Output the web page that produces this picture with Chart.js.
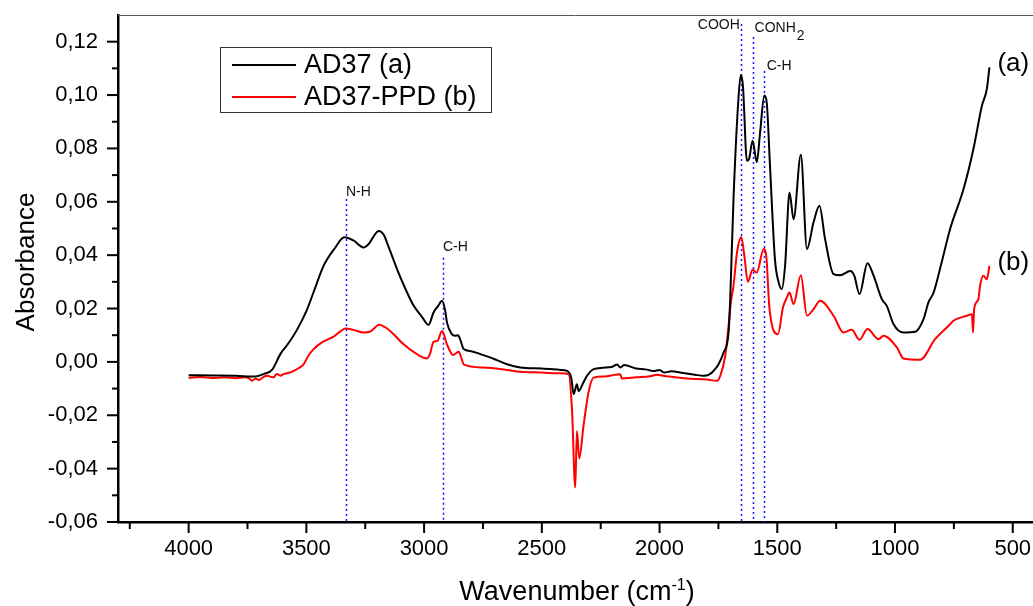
<!DOCTYPE html>
<html>
<head>
<meta charset="utf-8">
<script src="https://cdn.jsdelivr.net/npm/chart.js@4.4.1/dist/chart.umd.min.js"></script>
<style>
  body { margin: 0; background: #fff; }
  canvas { display: block; }
</style>
</head>
<body>
<canvas id="ftir" width="1033" height="606"></canvas>
<script>
// AD37 (a): wavenumber (cm-1) / absorbance
const waveA = [4000, 3900, 3800, 3720, 3680, 3646, 3610, 3580, 3540, 3500, 3470, 3427, 3380, 3339, 3300, 3257, 3236, 3193, 3170, 3158,
  3115, 3080, 3044, 3010, 2981, 2960, 2940, 2924, 2910, 2903, 2882, 2868, 2856, 2845, 2832, 2800, 2761, 2700, 2648, 2592,
  2500, 2420, 2393, 2375, 2365, 2351, 2344, 2325, 2308, 2280, 2240, 2200, 2180, 2167, 2150, 2100, 2060, 2026, 2000, 1980,
  1950, 1900, 1850, 1813, 1790, 1771, 1750, 1728, 1707, 1700, 1686, 1665, 1655, 1646, 1629, 1620, 1605, 1587, 1573, 1555,
  1545, 1531, 1510, 1495, 1481, 1467, 1448, 1431, 1400, 1374, 1346, 1321, 1297, 1261, 1233, 1190, 1173, 1151, 1117, 1091,
  1056, 1035, 1006, 964, 914, 879, 858, 836, 800, 766, 709, 667, 631, 610, 599];
const absA = [-0.0050, -0.0051, -0.0052, -0.0055, -0.0045, -0.0030, 0.0030, 0.0065, 0.0120, 0.0190, 0.0260, 0.0360, 0.0425, 0.0467, 0.0455, 0.0429, 0.0441, 0.0491, 0.0475, 0.0448,
  0.0348, 0.0275, 0.0210, 0.0170, 0.0139, 0.0185, 0.0210, 0.0229, 0.0190, 0.0148, 0.0104, 0.0098, 0.0100, 0.0080, 0.0048, 0.0040, 0.0029, 0.0010, -0.0009, -0.0021,
  -0.0025, -0.0030, -0.0034, -0.0060, -0.0121, -0.0084, -0.0109, -0.0080, -0.0052, -0.0027, -0.0022, -0.0018, -0.0010, -0.0021, -0.0012, -0.0025, -0.0028, -0.0034, -0.0030, -0.0040,
  -0.0035, -0.0042, -0.0048, -0.0052, -0.0048, -0.0034, -0.0010, 0.0035, 0.0110, 0.0235, 0.0610, 0.0986, 0.1075, 0.1035, 0.0754, 0.0760, 0.0829, 0.0748, 0.0860, 0.0998,
  0.0973, 0.0735, 0.0385, 0.0300, 0.0273, 0.0360, 0.0635, 0.0535, 0.0776, 0.0423, 0.0523, 0.0585, 0.0460, 0.0329, 0.0325, 0.0341, 0.0323, 0.0254, 0.0370, 0.0323,
  0.0235, 0.0210, 0.0141, 0.0110, 0.0113, 0.0160, 0.0223, 0.0260, 0.0380, 0.0498, 0.0648, 0.0798, 0.0960, 0.1023, 0.1104];

// AD37-PPD (b)
const waveB = [4000, 3950, 3900, 3850, 3800, 3760, 3740, 3731, 3715, 3703, 3680, 3667, 3640, 3625, 3610, 3597, 3570, 3554, 3530, 3512,
  3490, 3469, 3434, 3384, 3332, 3300, 3257, 3228, 3190, 3170, 3144, 3087, 3030, 2988, 2975, 2960, 2943, 2924, 2903, 2877,
  2862, 2853, 2840, 2832, 2747, 2650, 2592, 2500, 2420, 2386, 2372, 2358, 2351, 2341, 2323, 2302, 2280, 2230, 2200, 2167,
  2160, 2100, 2040, 2010, 1997, 1950, 1884, 1800, 1756, 1742, 1721, 1707, 1697, 1686, 1671, 1653, 1640, 1625, 1605, 1587,
  1558, 1547, 1533, 1497, 1476, 1460, 1448, 1431, 1400, 1374, 1346, 1318, 1261, 1219, 1184, 1151, 1117, 1070, 1049, 992,
  964, 893, 830, 766, 752, 695, 673, 669, 664, 646, 639, 625, 610, 599];
const absB = [-0.0059, -0.0057, -0.0060, -0.0058, -0.0061, -0.0058, -0.0064, -0.0071, -0.0062, -0.0068, -0.0055, -0.0052, -0.0058, -0.0045, -0.0052, -0.0046, -0.0040, -0.0034, -0.0022, -0.0009,
  0.0025, 0.0048, 0.0073, 0.0095, 0.0125, 0.0120, 0.0110, 0.0114, 0.0139, 0.0132, 0.0116, 0.0066, 0.0029, 0.0013, 0.0030, 0.0075, 0.0079, 0.0116, 0.0066, 0.0026,
  0.0034, 0.0038, 0.0010, -0.0009, -0.0021, -0.0030, -0.0037, -0.0040, -0.0043, -0.0046, -0.0177, -0.0471, -0.0259, -0.0362, -0.0240, -0.0115, -0.0059, -0.0055, -0.0050, -0.0046,
  -0.0062, -0.0058, -0.0054, -0.0048, -0.0050, -0.0056, -0.0062, -0.0066, -0.0071, -0.0052, 0.0023, 0.0135, 0.0223, 0.0285, 0.0410, 0.0467, 0.0398, 0.0300, 0.0345, 0.0335,
  0.0423, 0.0398, 0.0198, 0.0104, 0.0204, 0.0240, 0.0260, 0.0216, 0.0325, 0.0173, 0.0198, 0.0229, 0.0173, 0.0110, 0.0120, 0.0083, 0.0123, 0.0085, 0.0098, 0.0054,
  0.0013, 0.0008, 0.0085, 0.0141, 0.0154, 0.0173, 0.0179, 0.0110, 0.0198, 0.0235, 0.0285, 0.0323, 0.0310, 0.0360];

const xTicks = [4000, 3500, 3000, 2500, 2000, 1500, 1000, 500];
const xMinor = [4250, 3750, 3250, 2750, 2250, 1750, 1250, 750];
const yTicks = [-0.06, -0.04, -0.02, 0, 0.02, 0.04, 0.06, 0.08, 0.10, 0.12];
const yMinor = [-0.05, -0.03, -0.01, 0.01, 0.03, 0.05, 0.07, 0.09, 0.11];

// band assignments: position, top of the dotted line, label
const bandWave = [3332, 2920, 1655, 1605, 1558];
const bandTop = [0.061, 0.039, 0.1266, 0.1218, 0.109];
const bandText = ['N-H', 'C-H', 'COOH', 'CONH', 'C-H'];
const bandSub = ['', '', '', '2', ''];

const FONT = "'Liberation Sans', Arial, sans-serif";

function line(ctx, x1, y1, x2, y2) {
  ctx.beginPath();
  ctx.moveTo(x1, y1);
  ctx.lineTo(x2, y2);
  ctx.stroke();
}

const decor = {
  id: 'decor',
  beforeDatasetsDraw(chart) {
    const { ctx, chartArea, scales: { x, y } } = chart;
    ctx.save();
    ctx.strokeStyle = '#1414ff';
    ctx.lineWidth = 1.5;
    ctx.setLineDash([2, 3]);
    bandWave.forEach((w, i) => {
      const px = Math.round(x.getPixelForValue(w)) + 0.5;
      line(ctx, px, y.getPixelForValue(bandTop[i]), px, chartArea.bottom);
    });
    ctx.restore();
  },
  afterDraw(chart) {
    const { ctx, chartArea, scales: { x, y } } = chart;
    const { left, right, top, bottom } = chartArea;
    ctx.save();

    // top frame line
    ctx.strokeStyle = '#555';
    ctx.lineWidth = 1;
    line(ctx, left, top + 0.5, right, top + 0.5);

    // outward ticks
    ctx.strokeStyle = '#000';
    ctx.lineWidth = 2;
    xTicks.forEach(v => { const p = x.getPixelForValue(v); line(ctx, p, bottom, p, bottom + 11); });
    xMinor.forEach(v => { const p = x.getPixelForValue(v); line(ctx, p, bottom, p, bottom + 7); });
    yTicks.forEach(v => { const p = y.getPixelForValue(v); line(ctx, left - 11, p, left, p); });
    yMinor.forEach(v => { const p = y.getPixelForValue(v); line(ctx, left - 6, p, left, p); });

    // band labels
    const offs = [[0, -7, 'left'], [0, -11, 'left'], [-1, 1, 'right'], [2, -8.5, 'left'], [3, -5, 'left']];
    ctx.fillStyle = '#111';
    ctx.textBaseline = 'middle';
    bandWave.forEach((w, i) => {
      const px = x.getPixelForValue(w) + offs[i][0];
      const py = y.getPixelForValue(bandTop[i]) + offs[i][1];
      ctx.font = '14px ' + FONT;
      ctx.textAlign = offs[i][2];
      ctx.fillText(bandText[i], px, py);
      if (bandSub[i]) {
        const tw = ctx.measureText(bandText[i]).width;
        ctx.textAlign = 'left';
        ctx.fillText(bandSub[i], px + tw + 1, py + 8);
      }
    });

    // legend
    ctx.fillStyle = '#fff';
    ctx.fillRect(220, 47, 271, 65);
    ctx.strokeStyle = '#333';
    ctx.lineWidth = 1;
    ctx.strokeRect(220.5, 47.5, 271, 65);
    chart.data.datasets.forEach((ds, i) => {
      const cy = 65 + i * 32;
      ctx.strokeStyle = ds.borderColor;
      ctx.lineWidth = 2;
      line(ctx, 232, cy, 296, cy);
      ctx.fillStyle = '#000';
      ctx.font = '27px ' + FONT;
      ctx.textAlign = 'left';
      ctx.textBaseline = 'middle';
      ctx.fillText(ds.label, 304, cy + 1);
    });

    // curve tags at the low-wavenumber end
    ctx.font = '26px ' + FONT;
    ctx.fillStyle = '#000';
    ['(a)', '(b)'].forEach((t, i) => {
      const ds = chart.data.datasets[i].data;
      const last = ds[ds.length - 1];
      ctx.fillText(t, x.getPixelForValue(last.x) + 8, y.getPixelForValue(last.y) - 3);
    });

    // axis titles
    ctx.fillStyle = '#000';
    ctx.textBaseline = 'alphabetic';
    ctx.textAlign = 'left';
    const main = 'Wavenumber (cm';
    ctx.font = '27px ' + FONT;
    const w1 = ctx.measureText(main).width;
    const w3 = ctx.measureText(')').width;
    ctx.font = '16px ' + FONT;
    const w2 = ctx.measureText('-1').width;
    let tx = 577 - (w1 + w2 + w3) / 2;
    ctx.font = '27px ' + FONT;
    ctx.fillText(main, tx, 600);
    ctx.font = '16px ' + FONT;
    ctx.fillText('-1', tx + w1, 590);
    ctx.font = '27px ' + FONT;
    ctx.fillText(')', tx + w1 + w2, 600);

    ctx.translate(33.5, 262);
    ctx.rotate(-Math.PI / 2);
    ctx.textAlign = 'center';
    ctx.font = '26px ' + FONT;
    ctx.fillText('Absorbance', 0, 0);
    ctx.restore();
  }
};

new Chart(document.getElementById('ftir'), {
  type: 'line',
  data: {
    datasets: [
      {
        label: 'AD37 (a)',
        data: waveA.map((w, i) => ({ x: w, y: absA[i] })),
        borderColor: '#000000',
        borderWidth: 2,
        pointRadius: 0,
        cubicInterpolationMode: 'monotone'
      },
      {
        label: 'AD37-PPD (b)',
        data: waveB.map((w, i) => ({ x: w, y: absB[i] })),
        borderColor: '#ff0000',
        borderWidth: 2,
        pointRadius: 0,
        cubicInterpolationMode: 'monotone'
      }
    ]
  },
  options: {
    responsive: false,
    animation: false,
    devicePixelRatio: 1,
    layout: { padding: { top: 15, right: 0, left: 0, bottom: 0 } },
    plugins: { legend: { display: false }, tooltip: { enabled: false } },
    scales: {
      x: {
        type: 'linear',
        reverse: true,
        min: 414,
        max: 4300,
        afterFit(s) { s.height = 84; s.paddingLeft = 0; s.paddingRight = 0; },
        afterBuildTicks(s) { s.ticks = xTicks.map(v => ({ value: v })); },
        ticks: {
          color: '#000',
          font: { family: FONT, size: 22 },
          padding: 14,
          maxRotation: 0,
          autoSkip: false,
          callback: v => String(v)
        },
        grid: { display: false, drawTicks: false },
        border: { display: true, color: '#000', width: 2.5 }
      },
      y: {
        min: -0.06,
        max: 0.13,
        afterFit(s) { s.width = 118; s.paddingTop = 0; s.paddingBottom = 0; },
        afterBuildTicks(s) { s.ticks = yTicks.map(v => ({ value: v })); },
        ticks: {
          color: '#000',
          font: { family: FONT, size: 22 },
          padding: 20,
          callback: v => v.toFixed(2).replace('.', ',')
        },
        grid: { display: false, drawTicks: false },
        border: { display: true, color: '#000', width: 2.5 }
      }
    }
  },
  plugins: [decor]
});
</script>
</body>
</html>
